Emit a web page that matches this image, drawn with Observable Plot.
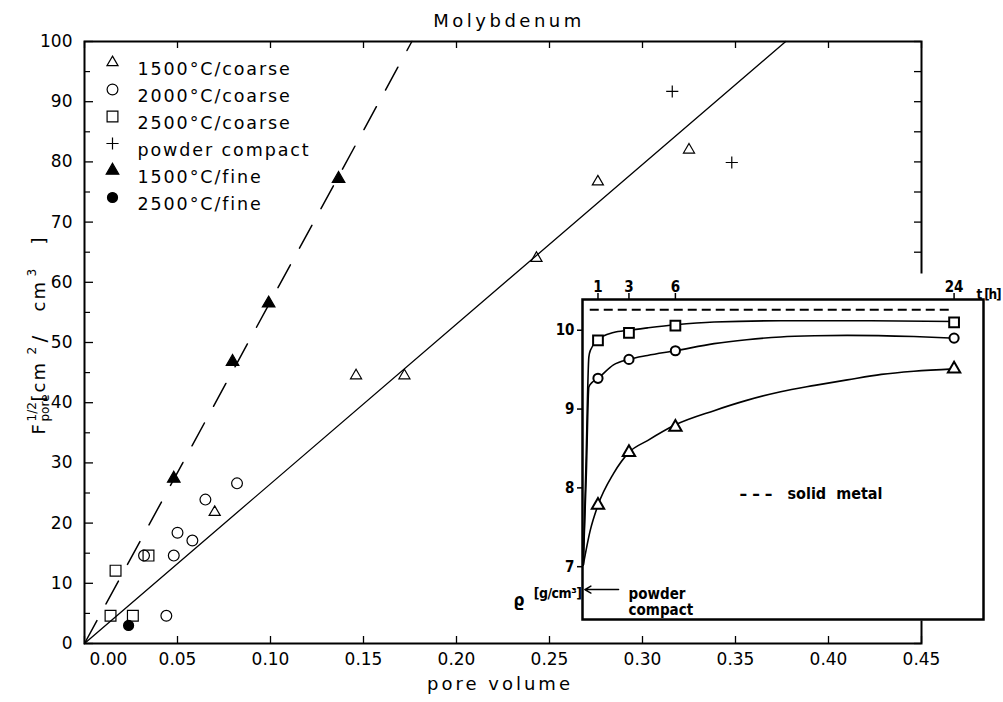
<!DOCTYPE html>
<html><head><meta charset="utf-8">
<script src="https://cdn.jsdelivr.net/npm/d3@7"></script>
<script src="https://cdn.jsdelivr.net/npm/@observablehq/plot@0.6"></script>
<style>
body{margin:0;background:#fff}
#wrap{position:relative;width:1003px;height:702px;background:#fff}
#inset{position:absolute;left:510px;top:270px}
</style></head><body><div id="wrap"></div>
<script>
// ---------- main chart data ----------
const seriesNames = ["1500°C/coarse", "2000°C/coarse", "2500°C/coarse", "powder compact", "1500°C/fine", "2500°C/fine"];
const coarse1500X = [0.070, 0.146, 0.172, 0.243, 0.276, 0.325];
const coarse1500Y = [21.8, 44.5, 44.5, 64.0, 76.7, 82.0];
const coarse2000X = [0.032, 0.048, 0.050, 0.058, 0.065, 0.082, 0.044];
const coarse2000Y = [14.6, 14.6, 18.4, 17.1, 23.9, 26.6, 4.6];
const coarse2500X = [0.0167, 0.0344, 0.014, 0.026];
const coarse2500Y = [12.1, 14.6, 4.6, 4.6];
const powderX = [0.316, 0.348];
const powderY = [91.7, 79.9];
const fine1500X = [0.048, 0.0796, 0.099, 0.1366];
const fine1500Y = [27.4, 46.8, 56.5, 77.2];
const fine2500X = [0.0237];
const fine2500Y = [3.0];
const solidFitX = [0, 0.377];
const solidFitY = [0, 100];
const dashedFitX = [0, 0.176];
const dashedFitY = [0, 100];
const xTickLabels = [0, 0.05, 0.10, 0.15, 0.20, 0.25, 0.30, 0.35, 0.40, 0.45];
const yTickLabels = [0, 10, 20, 30, 40, 50, 60, 70, 80, 90, 100];
const yMinorTicks = [5, 15, 25, 35, 45, 55, 65, 75, 85, 95];

// ---------- inset data ----------
const insetTimes = [1, 3, 6, 24];
const insetSquares = [9.87, 9.966, 10.06, 10.10];
const insetCircles = [9.39, 9.63, 9.74, 9.90];
const insetTriangles = [7.78, 8.45, 8.77, 9.51];
const sqCurveT = [0.05, 0.23, 0.41, 0.52, 1, 2, 3, 4.2, 6, 8.5, 12.8, 18, 24];
const sqCurveY = [7.02, 8.34, 9.66, 9.75, 9.88, 9.97, 10.0, 10.03, 10.07, 10.105, 10.12, 10.12, 10.11];
const ciCurveT = [0.05, 0.25, 0.41, 0.63, 1, 2, 3, 4.2, 6, 8.5, 10.6, 12.8, 15, 17.1, 21.4, 24];
const ciCurveY = [7.02, 8.2, 9.28, 9.34, 9.39, 9.56, 9.63, 9.68, 9.74, 9.83, 9.88, 9.915, 9.93, 9.935, 9.92, 9.90];
const trCurveT = [0.05, 0.5, 1, 2, 3, 4.2, 6, 8.5, 10.6, 12.8, 15, 17.1, 19.3, 21.4, 24];
const trCurveY = [7.02, 7.46, 7.78, 8.18, 8.45, 8.60, 8.80, 8.98, 9.11, 9.22, 9.30, 9.37, 9.44, 9.48, 9.51];
const solidMetalDensity = 10.26;
const solidMetalT = [0.5, 24];
const powderDensity = 6.71;
const powderArrowT = [2.33, 0.15];
const insetYTicks = [7, 8, 9, 10];

// ---------- build ----------
const zip = (xs, ys) => xs.map((x, i) => ({x, y: ys[i]}));
const seriesData = [
  zip(coarse1500X, coarse1500Y), zip(coarse2000X, coarse2000Y), zip(coarse2500X, coarse2500Y),
  zip(powderX, powderY), zip(fine1500X, fine1500Y), zip(fine2500X, fine2500Y)
];
const seriesStyle = [
  {symbol: "triangle2", r: 5.3, fill: "none"},
  {symbol: "circle", r: 5.4, fill: "none"},
  {symbol: "square", r: 6.1, fill: "none"},
  {symbol: "plus", r: 4.0, fill: "none"},
  {symbol: "triangle2", r: 6.0, fill: "black"},
  {symbol: "circle", r: 5.0, fill: "black"}
];

const W = 1003, H = 702, mL = 84, mR = 82, mT = 41, mB = 59;
const fw = W - mL - mR, fh = H - mT - mB;

const marks = [];
marks.push(Plot.frame({stroke: "black", strokeWidth: 2}));
// ticks (inward)
marks.push(Plot.tickY(yTickLabels, {insetRight: fw - 9, strokeWidth: 1.3}));
marks.push(Plot.tickY(yMinorTicks, {insetRight: fw - 6, strokeWidth: 1.2}));
marks.push(Plot.tickY(yTickLabels.concat(yMinorTicks), {insetLeft: fw - 7, strokeWidth: 1.3}));
marks.push(Plot.tickX(xTickLabels, {insetBottom: fh - 7, strokeWidth: 1.3}));
marks.push(Plot.tickX(xTickLabels, {insetTop: fh - 7, strokeWidth: 1.3}));
// axes labels
marks.push(Plot.axisY(yTickLabels, {tickSize: 0, tickPadding: 12, fontSize: 17}));
marks.push(Plot.axisX(xTickLabels.slice(1), {tickSize: 0, tickPadding: 9, fontSize: 17, tickFormat: d => d.toFixed(2)}));
marks.push(Plot.axisX(xTickLabels.slice(0, 1), {tickSize: 0, tickPadding: 9, fontSize: 17, dx: 24, tickFormat: d => d.toFixed(2)}));
// fitted lines
marks.push(Plot.line(zip(solidFitX, solidFitY), {x: "x", y: "y", stroke: "black", strokeWidth: 1.3}));
marks.push(Plot.line(zip(dashedFitX, dashedFitY), {x: "x", y: "y", stroke: "black", strokeWidth: 1.5, strokeDasharray: "26,19"}));
// points
seriesData.forEach((d, i) => {
  const s = seriesStyle[i];
  marks.push(Plot.dot(d, {x: "x", y: "y", symbol: s.symbol, r: s.r, fill: s.fill, stroke: "black", strokeWidth: 1.2}));
});
// legend
seriesNames.forEach((name, i) => {
  const s = seriesStyle[i];
  marks.push(Plot.dot([name], {frameAnchor: "top-left", dx: 28, dy: 21 + 27 * i, symbol: s.symbol, r: s.r, fill: s.fill, stroke: "black", strokeWidth: 1.2}));
  marks.push(Plot.text([name], {frameAnchor: "top-left", dx: 53, dy: 21 + 27 * i, textAnchor: "start", fontSize: 17.5}));
});
// title & x label
const titleText = "Molybdenum", xLabelText = "pore volume";
marks.push(Plot.text([titleText], {frameAnchor: "top", dx: 6, dy: -27, fontSize: 18}));
marks.push(Plot.text([xLabelText], {frameAnchor: "bottom", dx: -3, dy: 46, fontSize: 18}));
// y label pieces (rotated)
const yLabelParts = [
  {text: "F", start: 434, cx: 39, size: 18},
  {text: "1/2", start: 421, cx: 32, size: 12},
  {text: "pore", start: 421, cx: 45, size: 12},
  {text: "[cm", start: 401, cx: 39, size: 18},
  {text: "2", start: 354, cx: 32, size: 12},
  {text: "/", start: 342, cx: 39, size: 20},
  {text: "cm\u2009", start: 311, cx: 39, size: 18},
  {text: "3", start: 276, cx: 32, size: 12},
  {text: "]", start: 244, cx: 39, size: 18}
];
const midY = mT + fh / 2;
yLabelParts.forEach(p => {
  marks.push(Plot.text([p.text], {frameAnchor: "left", rotate: -90, textAnchor: "start", dx: p.cx - mL, dy: p.start - midY, fontSize: p.size}));
});

const main = Plot.plot({
  width: W, height: H, marginLeft: mL, marginRight: mR, marginTop: mT, marginBottom: mB,
  x: {domain: [0, 0.45], label: null},
  y: {domain: [0, 100], label: null},
  style: {fontFamily: "'DejaVu Sans', sans-serif", fontSize: "17px", background: "white", color: "black"},
  marks
});

// ---------- inset ----------
const iW = 493, iH = 365, iL = 72, iR = 20, iT = 29, iB = 16;
const dashText = "–––", metalText = "solid\u00a0\u00a0metal", timeUnit = "t [h]";
const iMarks = [
  Plot.frame({fill: "white", insetTop: -26, insetRight: -20, insetLeft: -1, insetBottom: -1}),
  Plot.frame({stroke: "black", strokeWidth: 2.5}),
  Plot.axisY(insetYTicks, {tickSize: 5, tickPadding: 3, strokeWidth: 1.5, tickFormat: d => String(d)}),
  Plot.axisX(insetTimes, {anchor: "top", tickSize: 7, tickPadding: 1, strokeWidth: 1.5, tickFormat: d => String(d)}),
  Plot.ruleY([solidMetalDensity], {x1: solidMetalT[0], x2: solidMetalT[1], stroke: "black", strokeWidth: 1.8, strokeDasharray: "9,5"}),
  Plot.line(zip(sqCurveT, sqCurveY), {x: "x", y: "y", curve: "monotone-x", stroke: "black", strokeWidth: 1.6}),
  Plot.line(zip(ciCurveT, ciCurveY), {x: "x", y: "y", curve: "monotone-x", stroke: "black", strokeWidth: 1.6}),
  Plot.line(zip(trCurveT, trCurveY), {x: "x", y: "y", curve: "monotone-x", stroke: "black", strokeWidth: 1.6}),
  Plot.dot(zip(insetTimes, insetSquares), {x: "x", y: "y", symbol: "square", r: 5.5, fill: "white", stroke: "black", strokeWidth: 2}),
  Plot.dot(zip(insetTimes, insetCircles), {x: "x", y: "y", symbol: "circle", r: 4.6, fill: "white", stroke: "black", strokeWidth: 2}),
  Plot.dot(zip(insetTimes, insetTriangles), {x: "x", y: "y", symbol: "triangle2", r: 5.9, fill: "white", stroke: "black", strokeWidth: 2}),
  Plot.arrow([powderDensity], {x1: powderArrowT[0], x2: powderArrowT[1], y1: d => d, y2: d => d, stroke: "black", strokeWidth: 1.5, headLength: 7}),
  Plot.text([powderDensity], {x: powderArrowT[0], y: d => d, text: () => "powder\ncompact", dx: 10, dy: -2, textAnchor: "start", lineAnchor: "top", lineHeight: 1.08}),
  Plot.text([timeUnit], {frameAnchor: "top-right", dx: -7, dy: -10, textAnchor: "start", fontSize: 13.5}),
  Plot.text([dashText], {frameAnchor: "top-left", dx: 157, dy: 188, textAnchor: "start", fontSize: 17}),
  Plot.text([metalText], {frameAnchor: "top-left", dx: 205, dy: 188, textAnchor: "start", fontSize: 16}),
  Plot.text(["[g/cm³]"], {frameAnchor: "bottom-left", dx: -1, dy: -22, textAnchor: "end", fontSize: 14}),
  Plot.text(["ϱ"], {frameAnchor: "bottom-left", dx: -69, dy: -14, fontSize: 17})
];
const inset = Plot.plot({
  width: iW, height: iH, marginLeft: iL, marginRight: iR, marginTop: iT, marginBottom: iB,
  x: {domain: [0, 25.9], label: null},
  y: {domain: [6.33, 10.39], label: null},
  style: {fontFamily: "'DejaVu Sans Condensed', 'Liberation Sans Narrow', 'DejaVu Sans', sans-serif", fontStretch: "condensed", fontWeight: "bold", fontSize: "15px", background: "transparent", color: "black", overflow: "visible"},
  marks: iMarks
});
inset.id = "inset";

const wrap = document.getElementById("wrap");
wrap.appendChild(main);
wrap.appendChild(inset);

// letter spacing tweaks for the wide typeface of the original
function spacing(svg, texts, value) {
  d3.select(svg).selectAll("text")
    .filter(function () { return texts.includes(this.textContent); })
    .style("letter-spacing", value);
}
spacing(main, seriesNames, "1.9px");
spacing(main, [titleText], "3.5px");
spacing(main, [xLabelText], "3px");
spacing(main, ["[cm", "cm\u2009"], "2px");
spacing(inset, [dashText], "5px");
spacing(inset, [timeUnit], "-1.2px");
spacing(inset, ["[g/cm³]"], "-0.5px");
</script>
</body></html>
